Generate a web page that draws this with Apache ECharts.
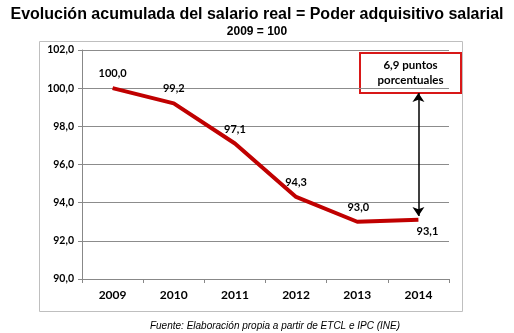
<!DOCTYPE html>
<html>
<head>
<meta charset="utf-8">
<script src="https://cdn.jsdelivr.net/npm/echarts@6/dist/echarts.min.js"></script>
<style>
  html, body { margin: 0; padding: 0; background: #fff; }
  #chart { width: 514px; height: 333px; }
</style>
</head>
<body>
<div id="chart"></div>
<script>
// Accumulated evolution of real wages (index, 2009 = 100)
const years = ['2009', '2010', '2011', '2012', '2013', '2014'];
const realWage = [100.0, 99.2, 97.1, 94.3, 93.0, 93.1];
const yTicks = [90, 92, 94, 96, 98, 100, 102];

// Where each value label sits relative to its point
const labelPlacement = ['top', 'top', 'top', 'top', 'top', 'bottom'];
const labelShift = [[0, 0], [0, 0], [0, 0], [0, 0], [1, 0], [9, 0]];
const labelGap = [9, 9, 9, 9, 9, 6];

const fmt = v => v.toFixed(1).replace('.', ',');
const gap = realWage[0] - realWage[realWage.length - 1];
const lastYear = years[years.length - 1];

const labelFont = 'Lato, "DejaVu Sans", sans-serif';
const valueLabelStyle = {
  fontFamily: labelFont, fontWeight: 'bold', fontSize: 11, color: '#000'
};

const chart = echarts.init(document.getElementById('chart'), null, { renderer: 'canvas' });

chart.setOption({
  animation: false,
  backgroundColor: '#ffffff',
  title: [
    {
      text: 'Evolución acumulada del salario real = Poder adquisitivo salarial',
      left: 'center', top: 2,
      textStyle: { fontFamily: 'Arial, "Liberation Sans", sans-serif', fontWeight: 'bold', fontSize: 16, color: '#000' }
    },
    {
      text: '2009 = 100',
      left: 'center', top: 21,
      textStyle: { fontFamily: 'Arial, "Liberation Sans", sans-serif', fontWeight: 'bold', fontSize: 12, color: '#000' }
    },
    {
      text: 'Fuente: Elaboración propia a partir de ETCL e IPC (INE)',
      left: 270, textAlign: 'center', top: 316,
      textStyle: { fontFamily: 'Arial, "Liberation Sans", sans-serif', fontStyle: 'italic', fontWeight: 'normal', fontSize: 10, color: '#000' }
    }
  ],
  grid: { left: 82, top: 50, width: 367, height: 229, containLabel: false },
  xAxis: {
    type: 'category',
    data: years,
    boundaryGap: true,
    axisLine: { lineStyle: { color: '#888', width: 1 } },
    axisTick: { show: true, length: 4, lineStyle: { color: '#888' } },
    axisLabel: { margin: 10, fontFamily: labelFont, fontWeight: 'bold', fontSize: 12, color: '#000' }
  },
  yAxis: {
    type: 'value',
    min: yTicks[0], max: yTicks[yTicks.length - 1], interval: 2,
    axisLine: { show: true, lineStyle: { color: '#888', width: 1 } },
    axisTick: { show: true, length: 4, lineStyle: { color: '#888' } },
    splitLine: { lineStyle: { color: '#8c8c8c', width: 1 } },
    axisLabel: { margin: 8, formatter: v => fmt(v), fontFamily: labelFont, fontWeight: 'bold', fontSize: 10.5, color: '#000' }
  },
  series: [
    {
      type: 'line',
      data: realWage.map((v, i) => ({
        value: v,
        label: Object.assign({
          show: true,
          position: labelPlacement[i],
          offset: labelShift[i],
          distance: labelGap[i],
          formatter: p => fmt(p.value)
        }, valueLabelStyle)
      })),
      symbol: 'circle',
      symbolSize: 0,
      showSymbol: true,
      itemStyle: { color: '#c00000' },
      lineStyle: { color: '#c00000', width: 4 },
      label: Object.assign({ show: true, distance: 9, formatter: p => fmt(p.value) }, valueLabelStyle),
      markLine: {
        silent: true,
        symbol: ['arrow', 'arrow'],
        symbolSize: [9, 9],
        label: { show: false },
        lineStyle: { color: '#000', width: 1.5, type: 'solid' },
        data: [[
          { coord: [lastYear, realWage[0] - 0.25] },
          { coord: [lastYear, realWage[realWage.length - 1] + 0.2] }
        ]]
      },
      z: 3
    }
  ],
  graphic: [
    // outer frame around the plot
    {
      type: 'rect', silent: true, z: 0,
      shape: { x: 39.5, y: 41.5, width: 423, height: 270 },
      style: { fill: 'none', stroke: '#bfbfbf', lineWidth: 1 }
    },
    // callout box with the gap
    {
      type: 'group', z: 10,
      left: 359, top: 52,
      children: [
        {
          type: 'rect',
          shape: { x: 0, y: 0, width: 101, height: 40 },
          style: { fill: '#fff', stroke: '#d81818', lineWidth: 2 }
        },
        {
          type: 'text',
          x: 50.5, y: 20,
          style: {
            text: fmt(gap) + ' puntos\nporcentuales',
            align: 'center', verticalAlign: 'middle',
            font: 'bold 11.5px ' + labelFont, lineHeight: 15, fill: '#000'
          }
        }
      ]
    }
  ]
});
</script>
</body>
</html>
